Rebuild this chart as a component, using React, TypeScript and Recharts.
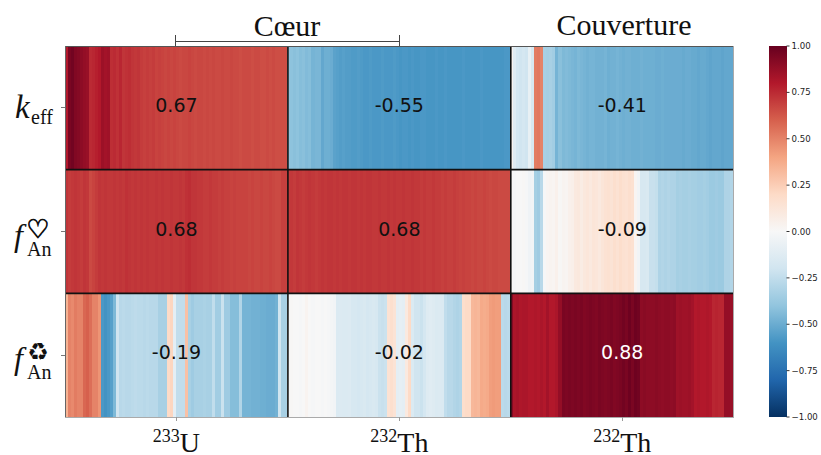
import { Bar, BarChart, Cell, ReferenceDot, ReferenceLine, XAxis, YAxis } from "recharts"

// correlation per burnup step, one list per cell of the grid
const keffU233 = [
  .8, .95, .97, .93, .92, .9, .88, .87, .75, .76,
  .78, .8, .86, .84, .85, .74, .75, .73, .76, .72,
  .73, .74, .72, .71, .72, .7, .69, .7, .69, .7,
  .68, .69, .68, .67, .68, .67, .68, .67, .66, .67,
  .67, .68, .67, .66, .67, .67, .66, .67, .66, .67,
  .66, .66, .67, .66, .66, .67, .66, .66, .65, .66,
  .66, .66, .65, .66, .66, .65, .65, .66, .65, .66,
  .65, .65, .65, .65,
]
const keffTh232 = [
  -.4, -.41, -.42, -.41, -.43, -.42, -.44, -.43, -.47, -.46,
  -.46, -.52, -.49, -.49, -.5, -.54, -.55, -.56, -.55, -.56,
  -.56, -.57, -.57, -.56, -.57, -.58, -.58, -.57, -.58, -.58,
  -.58, -.57, -.58, -.58, -.58, -.57, -.58, -.59, -.58, -.58,
  -.59, -.58, -.59, -.59, -.58, -.58, -.59, -.59, -.59, -.58,
  -.59, -.59, -.58, -.59, -.59, -.59, -.59, -.59, -.58, -.59,
  -.59, -.59, -.59, -.59, -.58, -.59, -.59, -.59, -.59, -.59,
  -.59, -.59, -.58, -.58,
]
const keffBlanket = [
  .03, -.12, -.18, -.2, -.18, -.2, -.08, -.17, .52, .53,
  .5, -.33, -.34, -.33, -.35, -.47, -.42, -.45, -.44, -.45,
  -.46, -.47, -.45, -.46, -.47, -.48, -.47, -.47, -.48, -.48,
  -.48, -.47, -.49, -.48, -.48, -.47, -.48, -.49, -.48, -.48,
  -.49, -.49, -.49, -.48, -.49, -.49, -.49, -.49, -.5, -.5,
  -.49, -.5, -.5, -.5, -.5, -.5, -.5, -.51, -.5, -.5,
  -.51, -.51, -.52, -.51, -.51, -.52, -.53, -.52, -.52, -.52,
  -.53, -.52, -.52, -.52,
]
const heartU233 = [
  .72, .7, .71, .72, .71, .7, .72, .71, .66, .68,
  .7, .72, .71, .72, .71, .71, .72, .71, .72, .71,
  .73, .72, .71, .72, .71, .72, .71, .72, .71, .71,
  .72, .71, .72, .71, .71, .72, .71, .71, .72, .71,
  .73, .74, .72, .72, .71, .71, .7, .7, .71, .7,
  .7, .69, .7, .69, .69, .68, .69, .68, .68, .68,
  .68, .67, .68, .67, .67, .68, .67, .67, .68, .67,
  .66, .66, .69, .69,
]
const heartTh232 = [
  .7, .71, .7, .72, .71, .7, .71, .72, .71, .7,
  .71, .72, .71, .72, .72, .71, .72, .71, .72, .72,
  .71, .72, .72, .71, .72, .71, .72, .72, .71, .71,
  .72, .71, .71, .72, .71, .72, .71, .71, .72, .71,
  .71, .72, .71, .71, .7, .71, .7, .7, .71, .7,
  .7, .69, .7, .69, .69, .7, .69, .68, .69, .68,
  .68, .67, .68, .67, .67, .68, .67, .66, .67, .67,
  .66, .66, .66, .66,
]
const heartBlanket = [
  0, -.01, 0, 0, .01, -.01, -.04, -.03, -.34, -.36,
  -.28, -.01, .02, .03, .02, .05, .01, .03, .02, .05,
  .06, .1, .11, .08, .11, .12, .1, .13, .12, .1,
  .13, .15, .16, .14, .17, .15, .18, .16, .15, .17,
  .16, .02, -.03, -.17, -.17, -.16, -.23, -.23, -.24, -.31,
  -.3, -.31, -.3, -.31, -.31, -.34, -.33, -.34, -.34, -.33,
  -.34, -.34, -.35, -.35, -.34, -.35, -.37, -.37, -.36, -.37,
  -.37, -.31, -.31, -.3,
]
const recycleU233 = [
  .35, .5, .48, .52, .5, .5, .58, .6, .56, .5,
  .5, .45, -.58, -.6, -.58, -.55, -.45, -.2, -.28, -.27,
  -.28, -.28, -.27, -.26, -.27, -.27, -.28, -.27, -.28, -.28,
  -.28, -.33, -.33, -.33, .2, .22, -.1, -.25, -.25, -.25,
  .3, -.33, -.36, -.33, -.33, -.33, -.32, -.33, -.33, -.25,
  -.35, -.35, -.22, -.36, -.36, -.43, -.43, -.43, -.3, -.47,
  -.47, -.47, -.48, -.48, -.48, -.49, -.49, -.5, -.5, -.5,
  -.48, -.2, -.33, -.33,
]
const recycleTh232 = [
  0, .01, 0, 0, -.01, 0, .03, 0, -.01, 0,
  0, -.01, 0, -.01, -.02, -.03, -.15, -.14, -.15, -.15,
  -.14, -.17, -.17, -.18, -.17, -.16, -.18, -.17, -.16, -.17,
  -.22, -.23, -.22, .15, .17, .14, -.1, -.09, -.1, .1,
  .2, -.15, -.2, -.2, -.22, -.18, -.13, -.12, -.13, -.15,
  -.14, -.15, -.25, -.28, -.28, -.3, -.31, -.3, .18, .2,
  .2, .33, .34, .33, .38, .37, .38, .42, .43, .42,
  .42, -.27, -.28, -.27,
]
const recycleBlanket = [
  .92, .82, .83, .81, .82, .82, .8, .8, .81, .8,
  .82, .8, .84, .8, .8, .82, .88, .95, .94, .95,
  .94, .95, .94, .95, .93, .94, .95, .94, .93, .95,
  .94, .93, .94, .95, .93, .94, .95, .97, .95, .98,
  .95, .98, .97, .9, .91, .9, .9, .9, .91, .9,
  .89, .9, .9, .89, .9, .85, .86, .85, .85, .86,
  .84, .8, .81, .8, .8, .81, .8, .76, .77, .76,
  .76, .88, .88, .87,
]

const keffRow = [...keffU233, ...keffTh232, ...keffBlanket]
const heartRow = [...heartU233, ...heartTh232, ...heartBlanket]
const recycleRow = [...recycleU233, ...recycleTh232, ...recycleBlanket]

const cellMeans = [
  [0.67, -0.55, -0.41],
  [0.68, 0.68, -0.09],
  [-0.19, -0.02, 0.88],
]
const colorbarTicks = [-1, -0.75, -0.5, -0.25, 0, 0.25, 0.5, 0.75, 1]

// matplotlib RdBu_r
const rdbu = ["#053061", "#2166ac", "#4393c3", "#92c5de", "#d1e5f0", "#f7f7f7", "#fddbc7", "#f4a582", "#d6604d", "#b2182b", "#67001f"]

const toRgb = (hex: string) => [1, 3, 5].map((i) => Number.parseInt(hex.slice(i, i + 2), 16))

const colorOf = (value: number) => {
  const pos = ((value + 1) / 2) * (rdbu.length - 1)
  const i = Math.min(Math.floor(pos), rdbu.length - 2)
  const t = pos - i
  const a = toRgb(rdbu[i])
  const b = toRgb(rdbu[i + 1])
  return `rgb(${a.map((c, k) => Math.round(c + (b[k] - c) * t)).join(",")})`
}

const STEPS_PER_PANEL = keffU233.length
const TOTAL_STEPS = STEPS_PER_PANEL * 3

const tableData = keffRow.map((_, i) => ({ step: i + 0.5, top: 1, middle: 1, bottom: 1 }))

const SERIF = "'Liberation Serif', serif"
const SANS = "'DejaVu Sans', sans-serif"

const isotopes = [
  { mass: "233", name: "U" },
  { mass: "232", name: "Th" },
  { mass: "232", name: "Th" },
]

const IsotopeTick = (props: any) => {
  const { x, y, index } = props
  const iso = isotopes[index]
  return (
    <text x={x} y={y + 29} textAnchor="middle" fontFamily={SERIF} fontSize={28} fill="#111">
      <tspan fontSize={18} dy={-10}>{iso.mass}</tspan>
      <tspan dy={10}>{iso.name}</tspan>
    </text>
  )
}

const RowTick = (props: any) => {
  const { y, payload } = props
  const row = Math.floor(payload.value)
  if (row === 2) {
    return (
      <g fontFamily={SERIF} fill="#111">
        <text x={15} y={y + 10} fontSize={33} fontStyle="italic">k</text>
        <text x={31} y={y + 16} fontSize={20}>eff</text>
      </g>
    )
  }
  return (
    <g fontFamily={SERIF} fill="#111">
      <text x={14} y={y + 14} fontSize={32} fontStyle="italic">f</text>
      <text x={27} y={y + 24} fontSize={20}>An</text>
      {row === 1 ? (
        <text x={38} y={y + 6} fontSize={26} textAnchor="middle" fontFamily={SANS} stroke="#111" strokeWidth={0.9}>
          {"\u2661"}
        </text>
      ) : (
        <text x={38} y={y + 5} fontSize={24} textAnchor="middle" fontFamily={SANS} fontWeight="bold">
          {"\u267b"}
        </text>
      )}
    </g>
  )
}

const Annotations = () => (
  <svg width={821} height={46} style={{ position: "absolute", left: 0, top: 0 }}>
    <g stroke="#444" strokeWidth={1}>
      <line x1={175.5} y1={41.5} x2={399.5} y2={41.5} />
      <line x1={175.5} y1={35} x2={175.5} y2={46} />
      <line x1={399.5} y1={35} x2={399.5} y2={46} />
    </g>
    <g fontFamily={SERIF} fontSize={30} fill="#111" textAnchor="middle">
      <text x={287} y={36}>Cœur</text>
      <text x={624} y={35}>Couverture</text>
    </g>
  </svg>
)

const SOFT = "geometricPrecision"

// a stroke in the strip's own colour closes the hairline seams between strips
const stripCell = (value: number, i: number) => {
  const color = colorOf(value)
  return <Cell key={i} fill={color} stroke={color} strokeWidth={1} />
}

export default function App() {
  return (
    <div style={{ position: "absolute", left: 0, top: 0, width: 821, height: 455, background: "#fff" }}>
      <BarChart
        width={821}
        height={455}
        data={tableData}
        margin={{ top: 46, right: 87.3, bottom: 0, left: 5 }}
        barCategoryGap={0}
        barGap={0}
        style={{ shapeRendering: "crispEdges" }}
      >
        <XAxis
          dataKey="step"
          type="number"
          domain={[0, TOTAL_STEPS]}
          ticks={[STEPS_PER_PANEL / 2, STEPS_PER_PANEL * 1.5, STEPS_PER_PANEL * 2.5]}
          height={38}
          tick={<IsotopeTick />}
          tickSize={4}
          tickLine={{ stroke: "#999" }}
          axisLine={{ stroke: "#aaa" }}
          allowDataOverflow
        />
        <YAxis
          type="number"
          domain={[0, 3]}
          ticks={[0.5, 1.5, 2.5]}
          width={60}
          tick={<RowTick />}
          tickSize={4}
          tickLine={{ stroke: "#777" }}
          axisLine={{ stroke: "#666" }}
        />
        <Bar dataKey="bottom" stackId="rows" isAnimationActive={false}>
          {recycleRow.map(stripCell)}
        </Bar>
        <Bar dataKey="middle" stackId="rows" isAnimationActive={false}>
          {heartRow.map(stripCell)}
        </Bar>
        <Bar dataKey="top" stackId="rows" isAnimationActive={false}>
          {keffRow.map(stripCell)}
        </Bar>
        <ReferenceLine x={STEPS_PER_PANEL} stroke="#111" strokeWidth={1.6} shapeRendering={SOFT} />
        <ReferenceLine x={STEPS_PER_PANEL * 2} stroke="#111" strokeWidth={1.6} shapeRendering={SOFT} />
        <ReferenceLine y={1} stroke="#111" strokeWidth={1.6} shapeRendering={SOFT} />
        <ReferenceLine y={2} stroke="#111" strokeWidth={1.6} shapeRendering={SOFT} />
        <ReferenceLine y={3} stroke="#555" />
        <ReferenceLine x={TOTAL_STEPS} stroke="#aaa" />
        {cellMeans.flatMap((row, r) =>
          row.map((value, c) => (
            <ReferenceDot
              key={`${r}-${c}`}
              x={STEPS_PER_PANEL * (c + 0.5)}
              y={2.52 - r}
              r={0}
              stroke="none"
              label={{
                value: value.toFixed(2),
                position: "center",
                fontFamily: SANS,
                fontSize: 19,
                fill: value > 0.8 ? "#fff" : "#111",
              }}
            />
          )),
        )}
      </BarChart>

      <div style={{ position: "absolute", left: 768.5, top: 0 }}>
        <BarChart
          width={52.5}
          height={455}
          data={[{ name: "scale", span: [-1, 1] }]}
          margin={{ top: 46, right: 0, bottom: 38, left: 0 }}
          barCategoryGap={0}
        >
          <defs>
            <linearGradient id="rdbuScale" x1="0" y1="1" x2="0" y2="0">
              {rdbu.map((c, i) => (
                <stop key={c} offset={i / (rdbu.length - 1)} stopColor={c} />
              ))}
            </linearGradient>
          </defs>
          <XAxis dataKey="name" hide />
          <YAxis
            orientation="right"
            type="number"
            domain={[-1, 1]}
            ticks={colorbarTicks}
            width={35}
            axisLine={false}
            tickSize={3}
            tickMargin={2}
            tickLine={{ stroke: "#333" }}
            tick={{ fontFamily: SANS, fontSize: 8.6, fill: "#222" }}
            tickFormatter={(v: number) => v.toFixed(2).replace("-", "\u2212")}
            interval={0}
          />
          <Bar dataKey="span" fill="url(#rdbuScale)" isAnimationActive={false} />
        </BarChart>
      </div>

      <Annotations />
    </div>
  )
}
